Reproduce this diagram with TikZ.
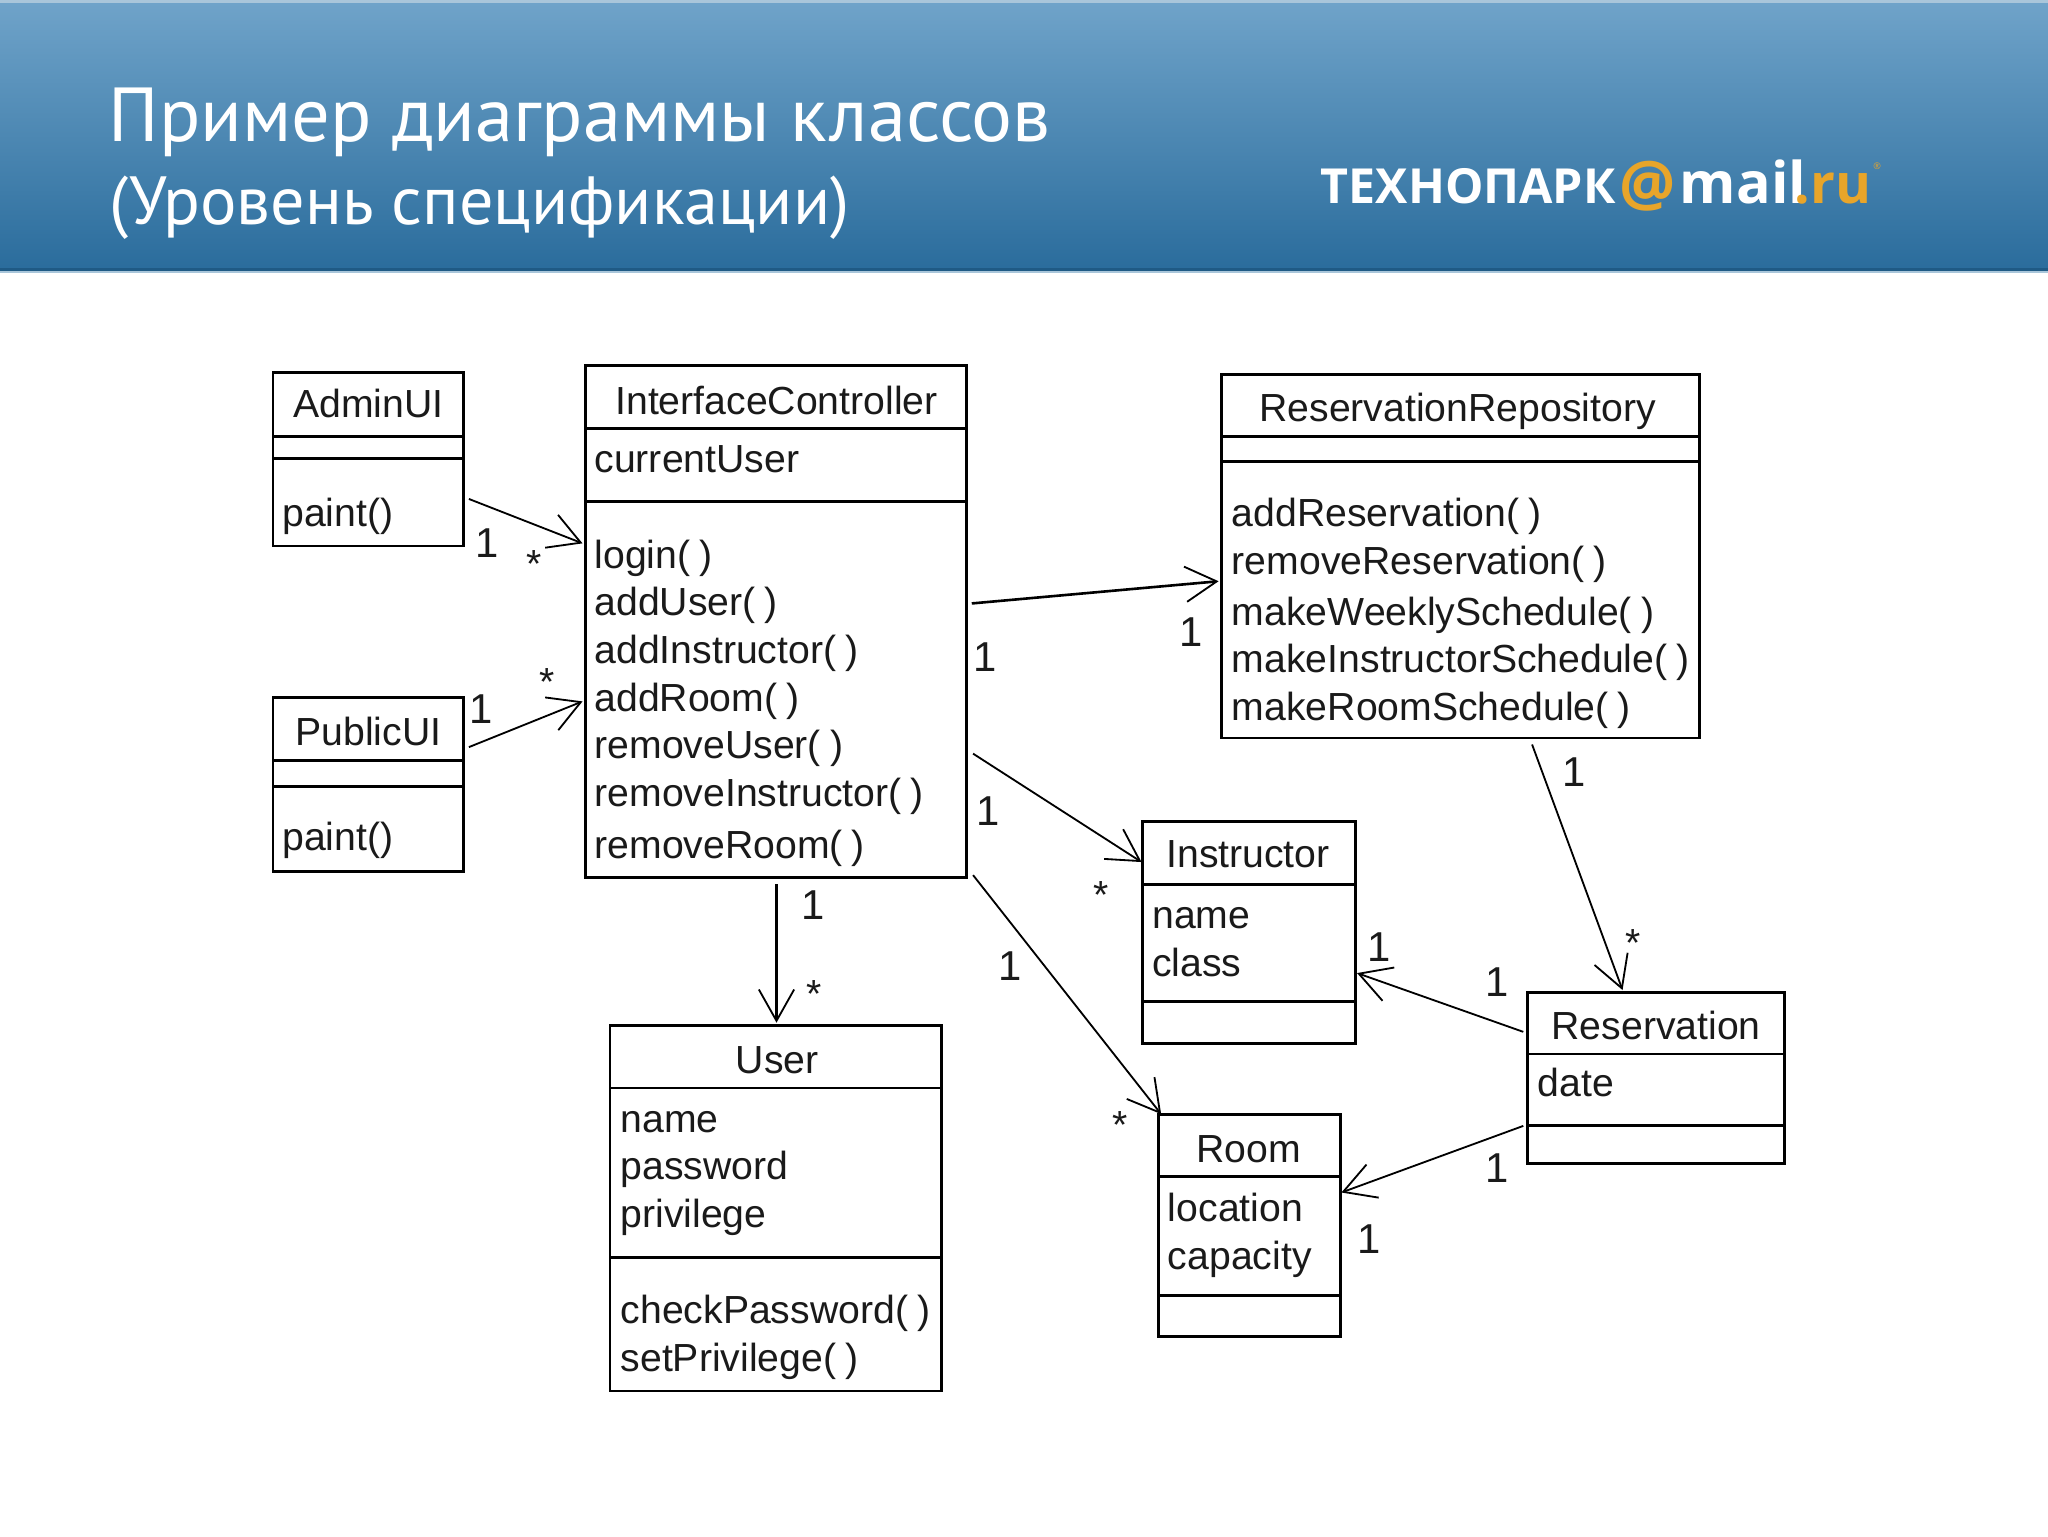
\documentclass[tikz,border=0pt]{standalone}
\usepackage{fontspec}
\setmainfont{Liberation Sans}
\newfontfamily\hdfont{PT Sans}
\newfontfamily\logofont{Open Sans}
\usetikzlibrary{arrows.meta}
\definecolor{hdtop}{HTML}{6FA3C9}
\definecolor{hdbot}{HTML}{2A6C9C}
\definecolor{hdline}{HTML}{1F5A85}
\definecolor{hdlight}{HTML}{A9C6DA}
\definecolor{logoorange}{HTML}{E8A52A}
\definecolor{ink}{HTML}{1A1A1A}
\newcommand{\ep}{(\kern7pt)}
\tikzset{
  cls/.style={draw=black,line width=2.2pt,fill=white,rectangle,inner sep=0pt,outer sep=0pt},
  divline/.style={draw=black,line width=2.2pt},
  cname/.style={font=\fontsize{30}{36}\selectfont,text=ink,anchor=base,inner sep=0pt},
  memb/.style={font=\fontsize{30}{36.7}\selectfont,text=ink,anchor=base west,inner sep=0pt,align=left},
  mult/.style={font=\fontsize{32}{36}\selectfont,text=ink,inner sep=0pt},
  star/.style={font=\fontsize{30}{36}\selectfont,text=ink,inner sep=0pt},
  assoc/.style={draw=black,line width=1.4pt,-{Straight Barb[length=24pt,width=27pt,line width=1.4pt]}},
  assocb/.style={assoc,line width=2pt},
  hdtitle/.style={text=white,anchor=base west,inner sep=0pt},
}
\begin{document}
\begin{tikzpicture}[x=1pt,y=-1pt]
\useasboundingbox (0,0) rectangle (1568,1176);
\fill[white] (0,0) rectangle (1568,1176);
% header
\shade[top color=hdtop,bottom color=hdbot] (0,2) rectangle (1568,207);
\fill[hdlight] (0,0) rectangle (1568,2);
\fill[hdline] (0,205.5) rectangle (1568,207.5);
\fill[hdlight] (0,207.5) rectangle (1568,209);
\node[hdtitle,font=\hdfont\fontsize{58.6}{64}\selectfont] (title1) at (83,108) {Пример диаграммы классов};
\node[hdtitle,font=\hdfont\fontsize{52.2}{58}\selectfont] (title2) at (84,172) {(Уровень спецификации)};
% logo
\node[hdtitle,font=\logofont\bfseries\fontsize{37}{40}\selectfont] (logoa) at (1011,156) {ТЕХНОПАРК};
\node[hdtitle,text=logoorange,font=\logofont\bfseries\fontsize{48}{50}\selectfont] (logob) at (1240,158) {@};
\node[hdtitle,font=\logofont\bfseries\fontsize{44}{44}\selectfont] (logoc) at (1286,156) {mail};
\node[hdtitle,text=logoorange,font=\logofont\bfseries\fontsize{42}{44}\selectfont] (logod) at (1374,156) {.ru};
\node[hdtitle,text=logoorange,font=\logofont\fontsize{7}{8}\selectfont] (logoe) at (1434,130) {®};
% classes
\node[cls,minimum width=146pt,minimum height=133pt] (admin) at (282,351.5) {};
\node[cls,minimum width=146pt,minimum height=133pt] (public) at (282,600.5) {};
\node[cls,minimum width=292pt,minimum height=392pt] (ic) at (594,476) {};
\node[cls,minimum width=366pt,minimum height=278pt] (rep) at (1118,426) {};
\node[cls,minimum width=254pt,minimum height=280pt] (user) at (594,925) {};
\node[cls,minimum width=163pt,minimum height=170pt] (instr) at (956.5,714) {};
\node[cls,minimum width=139pt,minimum height=170pt] (room) at (956.5,938) {};
\node[cls,minimum width=197pt,minimum height=131pt] (resv) at (1267.75,825.5) {};
% compartments
\draw[divline] (admin.west |- 0,334) -- (admin.east |- 0,334);
\draw[divline] (admin.west |- 0,351) -- (admin.east |- 0,351);
\draw[divline] (public.west |- 0,582) -- (public.east |- 0,582);
\draw[divline] (public.west |- 0,602) -- (public.east |- 0,602);
\draw[divline] (ic.west |- 0,328) -- (ic.east |- 0,328);
\draw[divline] (ic.west |- 0,384) -- (ic.east |- 0,384);
\draw[divline] (rep.west |- 0,334) -- (rep.east |- 0,334);
\draw[divline] (rep.west |- 0,353) -- (rep.east |- 0,353);
\draw[divline] (user.west |- 0,833) -- (user.east |- 0,833);
\draw[divline] (user.west |- 0,963) -- (user.east |- 0,963);
\draw[divline] (instr.west |- 0,677) -- (instr.east |- 0,677);
\draw[divline] (instr.west |- 0,767) -- (instr.east |- 0,767);
\draw[divline] (room.west |- 0,901) -- (room.east |- 0,901);
\draw[divline] (room.west |- 0,992) -- (room.east |- 0,992);
\draw[divline] (resv.west |- 0,807) -- (resv.east |- 0,807);
\draw[divline] (resv.west |- 0,862) -- (resv.east |- 0,862);
% names
\node[cname] (adminN) at (282,320) {AdminUI};
\node[cname] (publicN) at (282,571) {PublicUI};
\node[cname] (icN) at (594.5,317) {InterfaceController};
\node[cname] (repN) at (1116,322.5) {ReservationRepository};
\node[cname] (userN) at (595,822) {User};
\node[cname] (instrN) at (955.5,664) {Instructor};
\node[cname] (roomN) at (956,890) {Room};
\node[cname] (resvN) at (1268,795.5) {Reservation};
% members
\node[memb] (adminM) at (216,403) {paint()};
\node[memb] (publicM) at (216,651.5) {paint()};
\node[memb] (icA) at (455,362) {currentUser};
\node[memb] (icM1) at (455,435) {login\ep};
\node[memb] (icM2) at (455,471) {addUser\ep};
\node[memb] (icM3) at (455,508) {addInstructor\ep};
\node[memb] (icM4) at (455,545) {addRoom\ep};
\node[memb] (icM5) at (455,581) {removeUser\ep};
\node[memb] (icM6) at (455,617.5) {removeInstructor\ep};
\node[memb] (icM7) at (455,657) {removeRoom\ep};
\node[memb] (repM1) at (943,403) {addReservation\ep};
\node[memb] (repM2) at (943,440) {removeReservation\ep};
\node[memb] (repM3) at (943,479) {makeWeeklySchedule\ep};
\node[memb] (repM4) at (943,515) {makeInstructorSchedule\ep};
\node[memb] (repM5) at (943,552) {makeRoomSchedule\ep};
\node[memb] (userA1) at (475,867) {name};
\node[memb] (userA2) at (475,903) {password};
\node[memb] (userA3) at (475,940) {privilege};
\node[memb] (userM1) at (475,1013) {checkPassword\ep};
\node[memb] (userM2) at (475,1050) {setPrivilege\ep};
\node[memb] (instrA1) at (882,711) {name};
\node[memb] (instrA2) at (882,748) {class};
\node[memb] (roomA1) at (894,935.5) {location};
\node[memb] (roomA2) at (894,972) {capacity};
\node[memb] (resvA) at (1177,839.5) {date};
% connectors
\draw[assoc] ([shift={(4pt,-30.5pt)}]admin.east) -- ([shift={(-2pt,60pt)}]ic.west);
\draw[assoc] ([shift={(4pt,28.5pt)}]public.east) -- ([shift={(-2pt,-61pt)}]ic.west);
\draw[assocb] ([shift={(4pt,14pt)}]ic.east) -- ([shift={(-2pt,-19pt)}]rep.west);
\draw[assoc] ([shift={(55pt,-5pt)}]rep.south) -- ([shift={(-25.5pt,2pt)}]resv.north);
\draw[assoc] ([shift={(5pt,-101pt)}]ic.east) -- ([shift={(-1pt,54pt)}]instr.west);
\draw[assoc] ([shift={(5pt,-194pt)}]ic.east) -- ([shift={(-67.5pt,0pt)}]room.north);
\draw[assocb] ([shift={(0.5pt,-5pt)}]ic.south) -- ([shift={(0.5pt,2pt)}]user.north);
\draw[assoc] ([shift={(-3pt,35.5pt)}]resv.west) -- ([shift={(1pt,-31pt)}]instr.east);
\draw[assoc] ([shift={(-3pt,-36.5pt)}]resv.west) -- ([shift={(1pt,25pt)}]room.east);
% multiplicities
\node[mult] (m1) at (373,416) {1};
\node[star] (m2) at (409,432) {*};
\node[star] (m3) at (419,522) {*};
\node[mult] (m4) at (368,543) {1};
\node[mult] (m5) at (754,503) {1};
\node[mult] (m6) at (912,484) {1};
\node[mult] (m7) at (756.5,621) {1};
\node[star] (m8) at (843,685) {*};
\node[mult] (m9) at (622.5,693) {1};
\node[star] (m10) at (623.5,761) {*};
\node[mult] (m11) at (773,740) {1};
\node[star] (m12) at (857.5,861) {*};
\node[mult] (m13) at (1205,591) {1};
\node[star] (m14) at (1250,722) {*};
\node[mult] (m15) at (1056,725) {1};
\node[mult] (m16) at (1146,752) {1};
\node[mult] (m17) at (1146,894) {1};
\node[mult] (m18) at (1048.5,949) {1};
\end{tikzpicture}
\end{document}
